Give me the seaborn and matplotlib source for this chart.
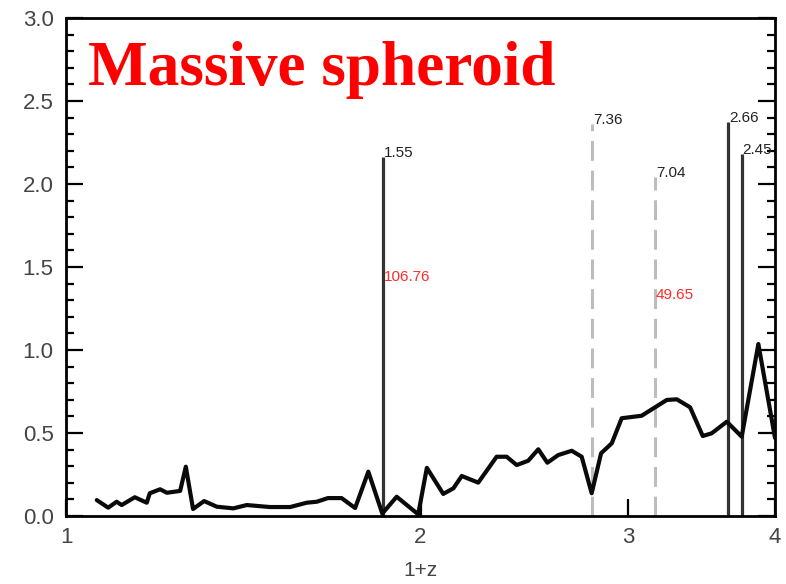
import numpy as np
import pandas as pd
import matplotlib
matplotlib.use("Agg")
import matplotlib.pyplot as plt
import seaborn as sns
from matplotlib.ticker import MultipleLocator, NullLocator, FixedLocator

# ---- data ----
z1 = [1.062, 1.086, 1.104, 1.115, 1.144, 1.171, 1.178, 1.202, 1.218, 1.250,
      1.264, 1.282, 1.310, 1.343, 1.387, 1.424, 1.490, 1.550, 1.601, 1.633,
      1.669, 1.714, 1.760, 1.806, 1.856, 1.909, 1.991, 2.025, 2.091, 2.133,
      2.168, 2.239, 2.321, 2.367, 2.414, 2.469, 2.518, 2.563, 2.618, 2.688,
      2.741, 2.795, 2.847, 2.907, 2.964, 3.082, 3.164, 3.237, 3.301, 3.388,
      3.473, 3.534, 3.640, 3.748, 3.872, 4.000]
ratio = [0.096, 0.050, 0.086, 0.066, 0.113, 0.080, 0.137, 0.161, 0.140, 0.151,
         0.297, 0.042, 0.090, 0.056, 0.046, 0.066, 0.054, 0.054, 0.080, 0.086,
         0.108, 0.108, 0.048, 0.267, 0.015, 0.116, 0.010, 0.290, 0.133, 0.167,
         0.241, 0.201, 0.357, 0.357, 0.307, 0.333, 0.402, 0.321, 0.367, 0.393,
         0.357, 0.137, 0.378, 0.438, 0.589, 0.604, 0.655, 0.699, 0.703, 0.655,
         0.482, 0.498, 0.568, 0.478, 1.036, 0.470]

solid_x = [1.858, 3.651, 3.748]
solid_top = [2.16, 2.375, 2.18]
solid_labels = ["1.55", "2.66", "2.45"]

dashed_x = [2.797, 3.164]
dashed_top = [2.36, 2.04]
dashed_labels = ["7.36", "7.04"]

red_x = [1.858, 3.164]
red_y = [1.44, 1.33]
red_labels = ["106.76", "49.65"]

xticks = [1, 2, 3, 4]
xtick_labels = ["1", "2", "3", "4"]
yticks = [0.0, 0.5, 1.0, 1.5, 2.0, 2.5, 3.0]
ytick_labels = ["0.0", "0.5", "1.0", "1.5", "2.0", "2.5", "3.0"]

title = "Massive spheroid"
xlabel = "1+z"

# ---- plot ----
sns.set_style("ticks")
plt.rcParams["font.family"] = ["Liberation Sans", "DejaVu Sans"]

fig = plt.figure(figsize=(7.86, 5.84), dpi=100)
ax = fig.add_axes([66/786, 68/584, 709/786, 498/584])

df = pd.DataFrame({"z": z1, "r": ratio})

ax.vlines(dashed_x, 0, dashed_top, colors="#bdbdbd", linewidth=2.2,
          linestyles=(0, (6.5, 3.2)), zorder=2)
ax.vlines(solid_x, 0, solid_top, colors="#333333", linewidth=2.3, zorder=2)
sns.lineplot(data=df, x="z", y="r", ax=ax, color="#0a0a0a", linewidth=3.0,
             zorder=3, estimator=None, sort=False)

for x, t, s in zip(solid_x + dashed_x, solid_top + dashed_top,
                   solid_labels + dashed_labels):
    ax.text(x * 1.002, t, s, fontsize=11, color="#222222",
            ha="left", va="baseline", zorder=4)
for x, y, s in zip(red_x, red_y, red_labels):
    ax.text(x * 1.002, y, s, fontsize=11, color="#ff2a2a",
            ha="left", va="center", zorder=4)

ax.text(0.031, 0.865, title, transform=ax.transAxes,
        fontsize=45.5, fontweight="bold", color="#ff0000",
        family=["Liberation Serif", "DejaVu Serif"], ha="left", va="baseline")

ax.set_xscale("log")
ax.set_xlim(1, 4)
ax.set_ylim(0, 3.0)
ax.xaxis.set_major_locator(FixedLocator(xticks))
ax.set_xticklabels(xtick_labels)
ax.xaxis.set_minor_locator(NullLocator())
ax.set_yticks(yticks)
ax.set_yticklabels(ytick_labels)
ax.yaxis.set_minor_locator(MultipleLocator(0.1))

ax.set_xlabel(xlabel, fontsize=15, color="#444444", labelpad=9)
ax.set_ylabel("")

for sp in ax.spines.values():
    sp.set_visible(True)
    sp.set_color("black")
    sp.set_linewidth(2.0)

ax.tick_params(axis="both", which="major", direction="in", length=12,
               width=1.6, color="black", labelsize=16, labelcolor="#444444")
ax.tick_params(axis="y", which="both", left=True, right=True)
ax.tick_params(axis="y", which="minor", direction="in", length=6, width=1.6,
               color="black")
ax.tick_params(axis="x", which="major", pad=8, top=False)
ax.tick_params(axis="y", which="major", pad=9)

fig.savefig("out.png", dpi=100)
